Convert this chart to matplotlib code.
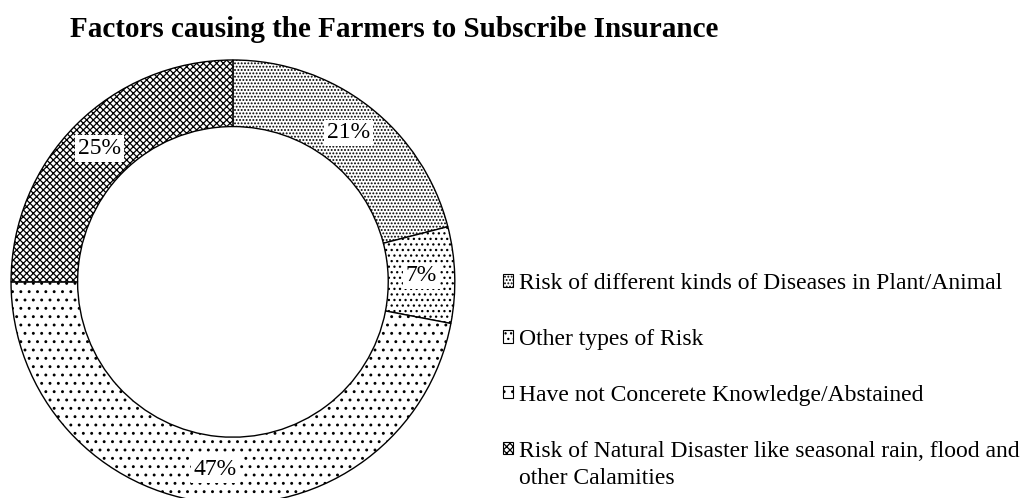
import numpy as np
import matplotlib.pyplot as plt
from matplotlib.patches import Patch

plt.rcParams['font.family'] = ['Liberation Serif', 'DejaVu Serif']
plt.rcParams['hatch.linewidth'] = 0.9

labels = ["Risk of different kinds of Diseases in Plant/Animal",
          "Other types of Risk",
          "Have not Concerete Knowledge/Abstained",
          "Risk of Natural Disaster like seasonal rain, flood and\nother Calamities"]
values = [21, 7, 47, 25]
hatches = ['.....', '...', '..', 'xxxxx']

fig = plt.figure(figsize=(10.32, 4.98), dpi=100)
fig.text(0.068, 0.926, "Factors causing the Farmers to Subscribe Insurance",
         fontsize=21, fontweight='bold', ha='left', va='baseline')

ax = fig.add_axes([0.0107, -0.012, 0.430, 0.892])
wedges, _ = ax.pie(values, startangle=90, counterclock=False, radius=1,
                   wedgeprops=dict(width=0.3, edgecolor='black', linewidth=1,
                                   facecolor='white'))
for w, h in zip(wedges, hatches):
    w.set_hatch(h)
    w.set_clip_on(False)

# percentage labels on white boxes, at the middle of each ring segment
cum = np.cumsum([0] + values)
for i, v in enumerate(values):
    ang = np.deg2rad(90 - 360 * (cum[i] + v / 2) / sum(values))
    r = 0.85
    ax.text(r * np.cos(ang), r * np.sin(ang), f"{v}%", ha='center', va='center',
            fontsize=17, bbox=dict(facecolor='white', edgecolor='none', pad=2))
ax.set_xlim(-1, 1)
ax.set_ylim(-1, 1)
ax.set_aspect('equal')
ax.axis('off')

# legend shows first line only, so the marker sits on that line;
# any wrapped remainder is drawn underneath afterwards
first_lines = [l.split('\n')[0] for l in labels]
handles = [Patch(facecolor='white', edgecolor='black', hatch=h, linewidth=0.8)
           for h in hatches]
leg = fig.legend(handles, first_lines, loc='upper left',
                 bbox_to_anchor=(0.478, 0.471), frameon=False, fontsize=17,
                 handlelength=0.42, handleheight=0.42, handletextpad=0.25,
                 labelspacing=1.48, borderpad=0.4, borderaxespad=0)

fig.canvas.draw()
inv = fig.transFigure.inverted()
for txt, full in zip(leg.get_texts(), labels):
    rest = full.split('\n')[1:]
    if rest:
        bb = txt.get_window_extent().transformed(inv)
        fig.text(bb.x0, bb.y0 - 0.012, '\n'.join(rest), fontsize=17,
                 ha='left', va='top')

fig.savefig("out.png", dpi=100)
